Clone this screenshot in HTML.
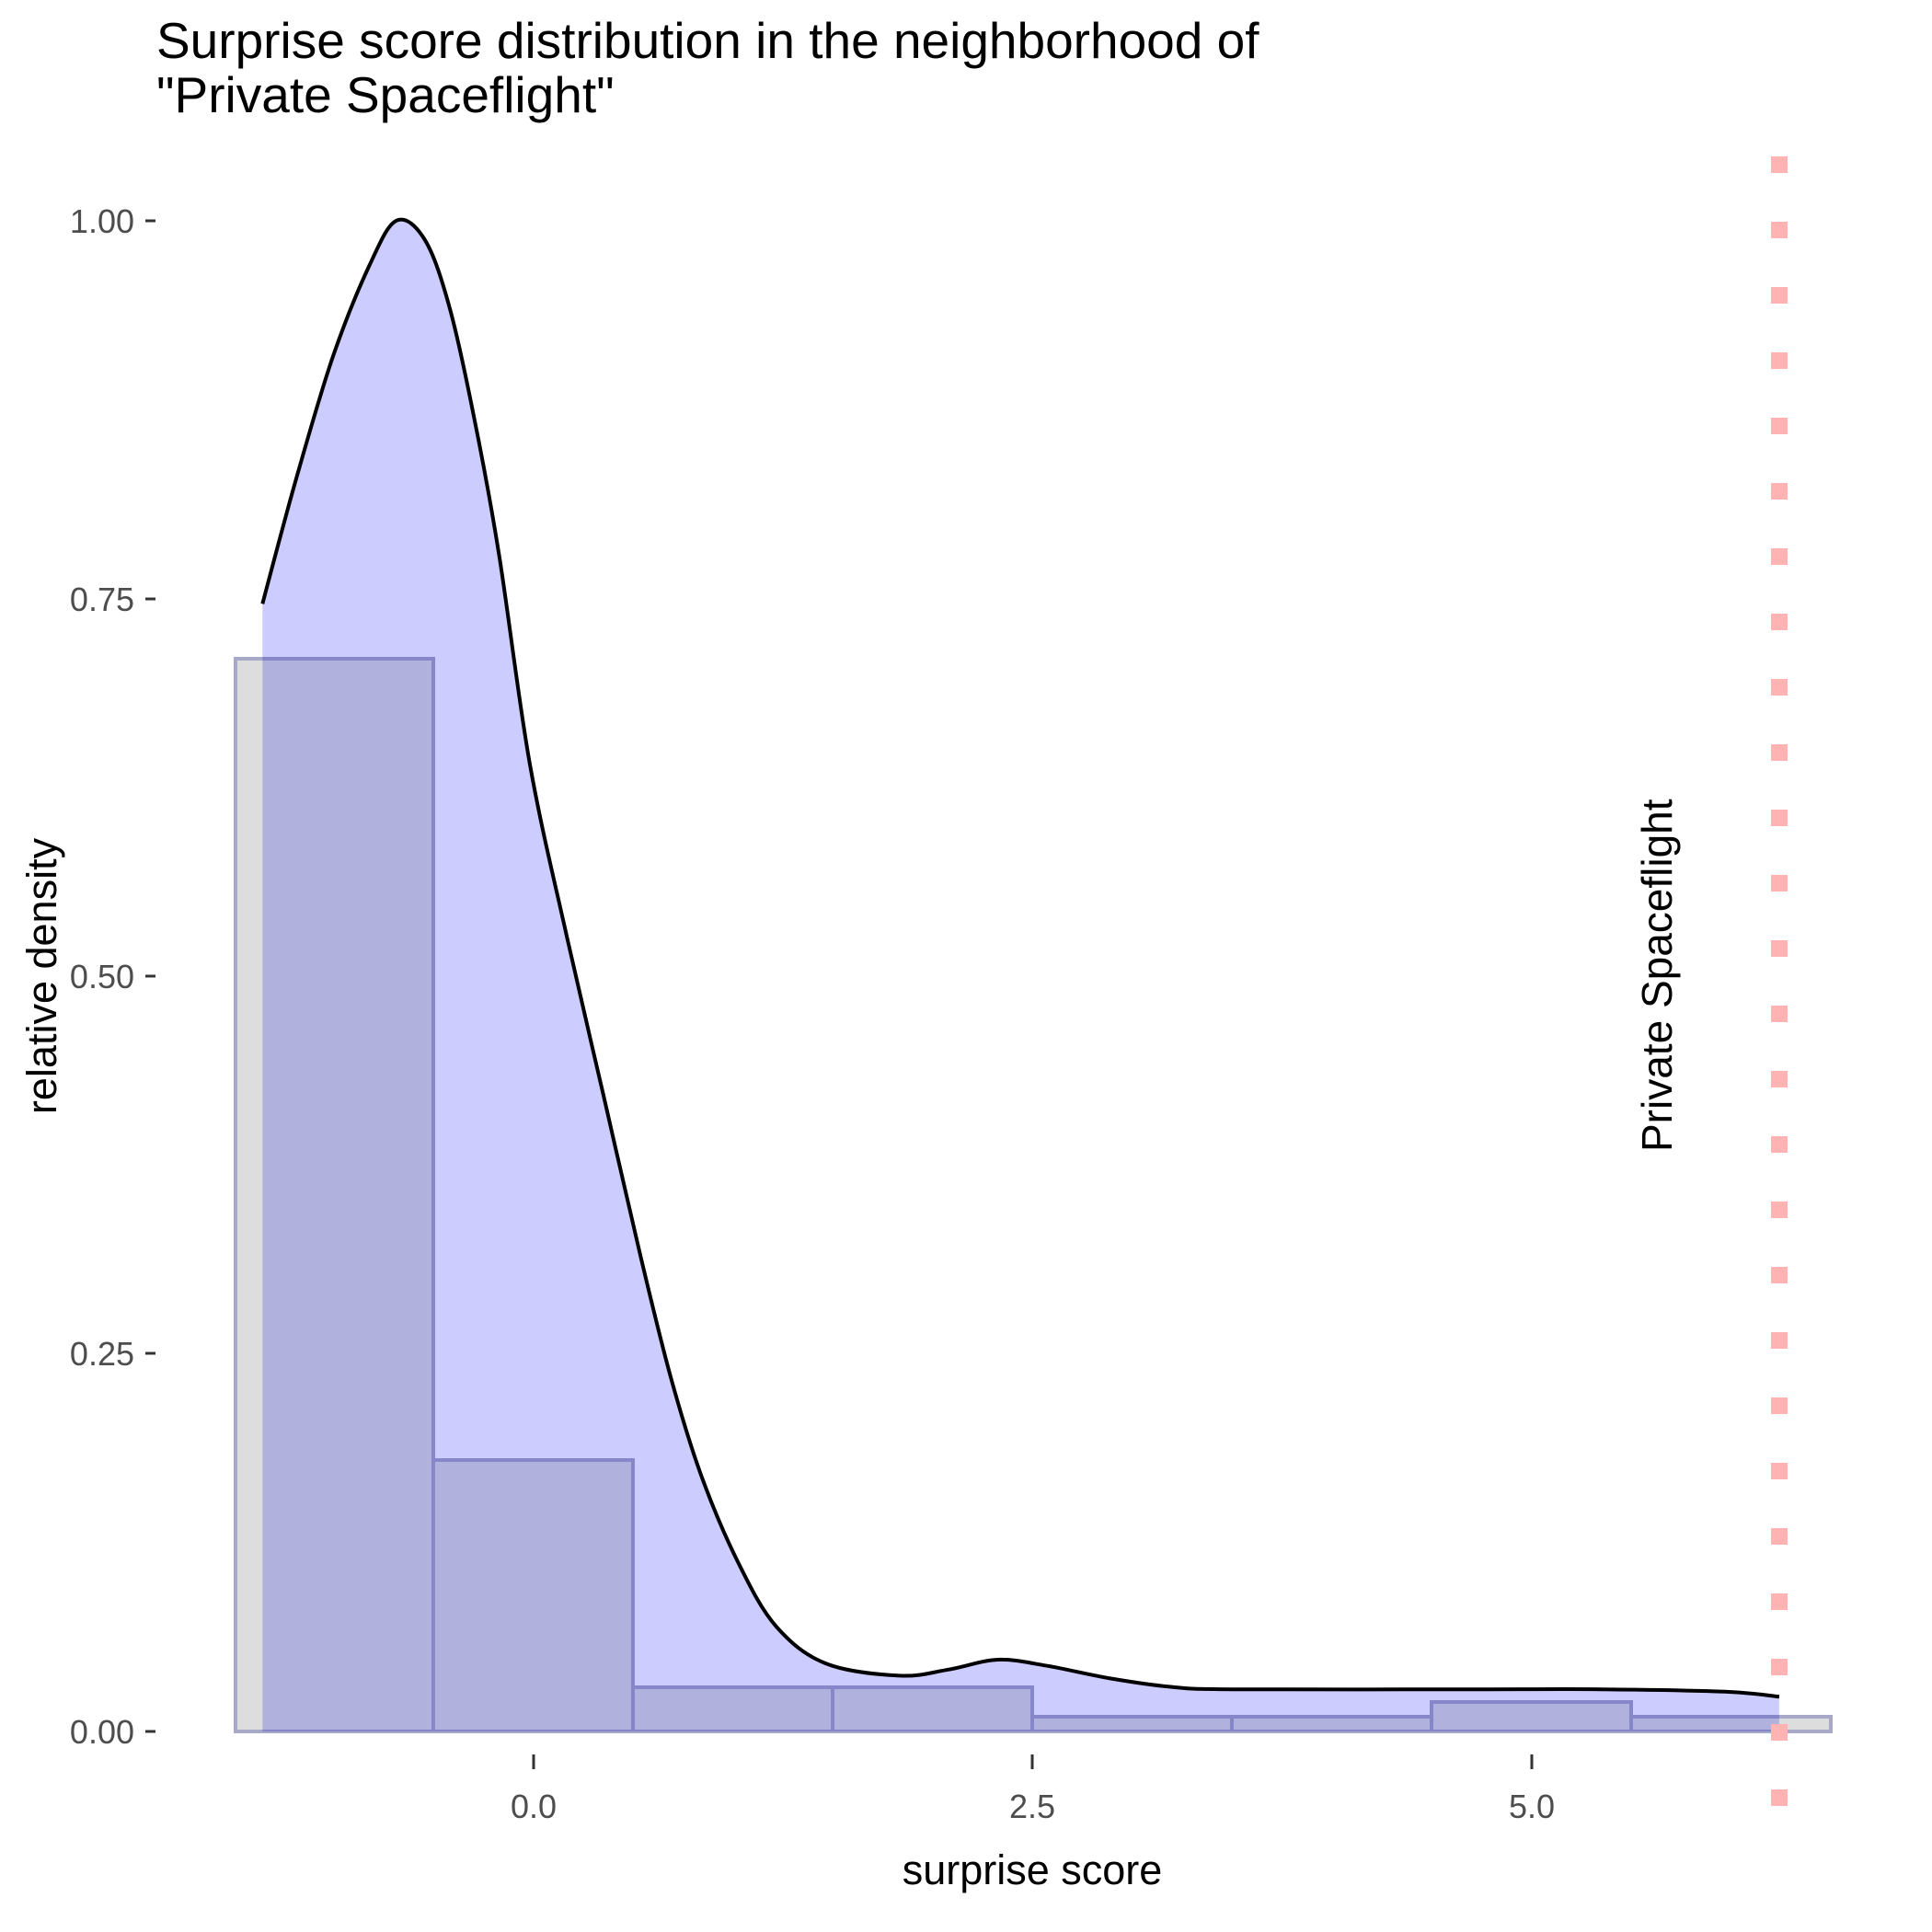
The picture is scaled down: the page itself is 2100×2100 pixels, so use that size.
<!DOCTYPE html>
<html><head><meta charset="utf-8"><style>html,body{margin:0;padding:0;background:#fff}svg{display:block}</style></head>
<body>
<svg width="2100" height="2100" viewBox="0 0 2100 2100" xmlns="http://www.w3.org/2000/svg" font-family="Liberation Sans, Arial, sans-serif">
<rect width="2100" height="2100" fill="#fff"/>
<path id="dfill" d="" fill="#ccccff" stroke="none"/>
<g fill="#dddddd" stroke="#a8a8c8" stroke-width="4" style="mix-blend-mode:multiply">
<rect x="256" y="716" width="215" height="1166"/>
<rect x="471" y="1587" width="217" height="295"/>
<rect x="688" y="1834" width="217" height="48"/>
<rect x="905" y="1834" width="217" height="48"/>
<rect x="1122" y="1866" width="217" height="16"/>
<rect x="1339" y="1866" width="217" height="16"/>
<rect x="1556" y="1850" width="217" height="32"/>
<rect x="1773" y="1866" width="217" height="16"/>
</g>
<path id="dline" d="" fill="none" stroke="#000" stroke-width="4" stroke-linejoin="round"/>
<line x1="1934" y1="170" x2="1934" y2="1963" stroke="#ffb3b3" stroke-width="18" stroke-dasharray="18 53"/>
<text transform="translate(1817,1252) rotate(-90)" font-size="46" fill="#000">Private Spaceflight</text>
<g fill="#4d4d4d" font-size="36" text-anchor="end">
<text x="146" y="253">1.00</text>
<text x="146" y="664">0.75</text>
<text x="146" y="1074">0.50</text>
<text x="146" y="1484">0.25</text>
<text x="146" y="1895">0.00</text>
</g>
<g stroke="#333" stroke-width="3">
<line x1="158" y1="240" x2="169" y2="240"/>
<line x1="158" y1="651" x2="169" y2="651"/>
<line x1="158" y1="1061" x2="169" y2="1061"/>
<line x1="158" y1="1471" x2="169" y2="1471"/>
<line x1="158" y1="1882" x2="169" y2="1882"/>
<line x1="580" y1="1907" x2="580" y2="1923"/>
<line x1="1122" y1="1907" x2="1122" y2="1923"/>
<line x1="1665" y1="1907" x2="1665" y2="1923"/>
</g>
<g fill="#4d4d4d" font-size="36" text-anchor="middle">
<text x="580" y="1976">0.0</text>
<text x="1122" y="1976">2.5</text>
<text x="1665" y="1976">5.0</text>
</g>
<text x="1122" y="2048" font-size="45" text-anchor="middle" fill="#000">surprise score</text>
<text transform="translate(61,1061) rotate(-90)" font-size="45" text-anchor="middle" fill="#000">relative density</text>
<text x="170" y="63" font-size="55" fill="#000">Surprise score distribution in the neighborhood of</text>
<text x="170" y="122" font-size="55" fill="#000">"Private Spaceflight"</text>
</svg>
<script>
(function(){
var d=[[213,490],[240,390],[270,290],[300,215],[322,179],[345,195],[365,250],[385,340],[405,450],[430,620],[460,760],[490,890],[520,1020],[545,1120],[570,1200],[600,1270],[630,1320],[670,1350],[730,1360],[770,1355],[810,1347],[850,1352],[900,1362],[950,1369],[1000,1371],[1200,1371],[1300,1371],[1400,1373],[1444,1377]];
var s=2100/1568;var p=d.map(function(q){return [q[0]*s,q[1]*s];});
var path="M"+p[0][0].toFixed(1)+","+p[0][1].toFixed(1);
for(var i=0;i<p.length-1;i++){
var a=p[i>0?i-1:i],b=p[i],c=p[i+1],e=p[i+2<p.length?i+2:i+1];
var c1=[b[0]+(c[0]-a[0])/6,b[1]+(c[1]-a[1])/6],c2=[c[0]-(e[0]-b[0])/6,c[1]-(e[1]-b[1])/6];
path+=" C"+c1[0].toFixed(1)+","+c1[1].toFixed(1)+" "+c2[0].toFixed(1)+","+c2[1].toFixed(1)+" "+c[0].toFixed(1)+","+c[1].toFixed(1);}
document.getElementById("dline").setAttribute("d",path);
var l=p[p.length-1];
document.getElementById("dfill").setAttribute("d",path+" L"+l[0].toFixed(1)+",1882 L"+p[0][0].toFixed(1)+",1882 Z");
})();
</script>
</body></html>
